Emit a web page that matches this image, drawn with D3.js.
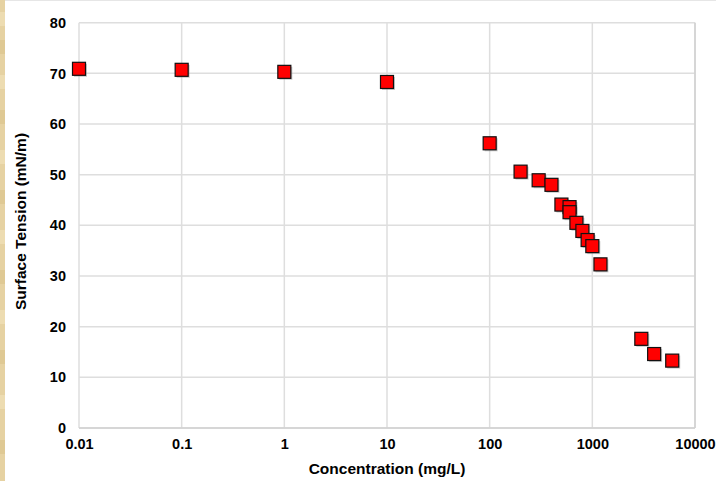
<!DOCTYPE html>
<html><head><meta charset="utf-8">
<script src="https://cdn.jsdelivr.net/npm/d3@7"></script>
<style>html,body{margin:0;padding:0;background:#fff;}svg{display:block;}</style>
</head><body>
<script>
const concentration = [0.01, 0.1, 1, 10, 100, 200, 300, 400, 500, 600, 600, 700, 800, 900, 1000, 1200, 3000, 4000, 6000];
const surfaceTension = [70.9, 70.7, 70.3, 68.3, 56.2, 50.6, 48.9, 48.0, 44.1, 43.6, 42.6, 40.5, 38.9, 37.1, 35.9, 32.3, 17.6, 14.6, 13.3];
const xTicks = [0.01, 0.1, 1, 10, 100, 1000, 10000];
const xTickLabels = ["0.01", "0.1", "1", "10", "100", "1000", "10000"];
const yTicks = [0, 10, 20, 30, 40, 50, 60, 70, 80];

const W = 716, H = 481;
const svg = d3.select("body").append("svg").attr("width", W).attr("height", H);
svg.append("rect").attr("width", W).attr("height", H).attr("fill", "#fff");
// left textured strip
const strip = svg.append("g");
strip.append("rect").attr("x", 0).attr("y", 0).attr("width", 5).attr("height", H).attr("fill", "#e6d2a2");
const stripBands = [12, 40, 75, 110, 150, 190, 230, 270, 310, 350, 395, 440];
stripBands.forEach((b, i) => strip.append("rect").attr("x", 0).attr("y", b).attr("width", 5).attr("height", 14)
  .attr("fill", i % 2 ? "#dcc48e" : "#efdfb8").attr("opacity", 0.7));
svg.append("line").attr("x1", 5).attr("x2", W).attr("y1", 0.5).attr("y2", 0.5).attr("stroke", "#e6e6e6");

const m = {left: 79, right: 695, top: 22.7, bottom: 428};
const x = d3.scaleLog().domain([0.01, 10000]).range([m.left, m.right]);
const y = d3.scaleLinear().domain([0, 80]).range([m.bottom, m.top]);

const grid = svg.append("g");
yTicks.forEach(t => grid.append("line").attr("x1", m.left).attr("x2", m.right)
  .attr("y1", y(t)).attr("y2", y(t)).attr("stroke", "#dedede").attr("stroke-width", 1.5));
xTicks.forEach(t => grid.append("line").attr("x1", x(t)).attr("x2", x(t))
  .attr("y1", m.top).attr("y2", m.bottom).attr("stroke", "#dedede").attr("stroke-width", 1.5));
svg.append("line").attr("x1", m.left).attr("x2", m.right).attr("y1", m.bottom).attr("y2", m.bottom).attr("stroke", "#d0d0d0").attr("stroke-width", 1.5);
svg.append("line").attr("x1", m.right).attr("x2", m.right).attr("y1", m.top).attr("y2", m.bottom).attr("stroke", "#d0d0d0").attr("stroke-width", 1.5);

const font = "'Liberation Sans', Arial, sans-serif";
const yAxis = d3.axisLeft(y).tickValues(yTicks).tickSize(0).tickPadding(13).tickFormat(d3.format("d"));
const gy = svg.append("g").attr("transform", `translate(${m.left},0)`).call(yAxis);
gy.select(".domain").remove();
gy.selectAll("text").attr("font-family", font).attr("font-size", 14.5).attr("font-weight", "bold").attr("fill", "#000");

const xAxis = d3.axisBottom(x).tickValues(xTicks).tickSize(0).tickPadding(10.7).tickFormat((d, i) => xTickLabels[i]);
const gx = svg.append("g").attr("transform", `translate(0,${m.bottom})`).call(xAxis);
gx.select(".domain").remove();
gx.selectAll("text").attr("font-family", font).attr("font-size", 14.5).attr("font-weight", "bold").attr("fill", "#000");

svg.append("text").attr("x", 387).attr("y", 474).attr("text-anchor", "middle")
  .attr("font-family", font).attr("font-size", 15.5).attr("font-weight", "bold").text("Concentration (mg/L)");
svg.append("text").attr("transform", "translate(25.5,221.5) rotate(-90)").attr("text-anchor", "middle")
  .attr("font-family", font).attr("font-size", 15.5).attr("font-weight", "bold").text("Surface Tension (mN/m)");

const s = 13;
const pts = concentration.map((c, i) => ({c, v: surfaceTension[i]}));
svg.append("g").selectAll("rect.sh").data(pts).join("rect")
  .attr("x", d => x(d.c) - s / 2 + 1.5).attr("y", d => y(d.v) - s / 2 + 1.5)
  .attr("width", s).attr("height", s).attr("fill", "#999").attr("opacity", 0.5);
svg.append("g").selectAll("rect.pt").data(pts).join("rect")
  .attr("x", d => x(d.c) - s / 2).attr("y", d => y(d.v) - s / 2)
  .attr("width", s).attr("height", s).attr("fill", "#ff0000").attr("stroke", "#111").attr("stroke-width", 1.2);
</script>
</body></html>
